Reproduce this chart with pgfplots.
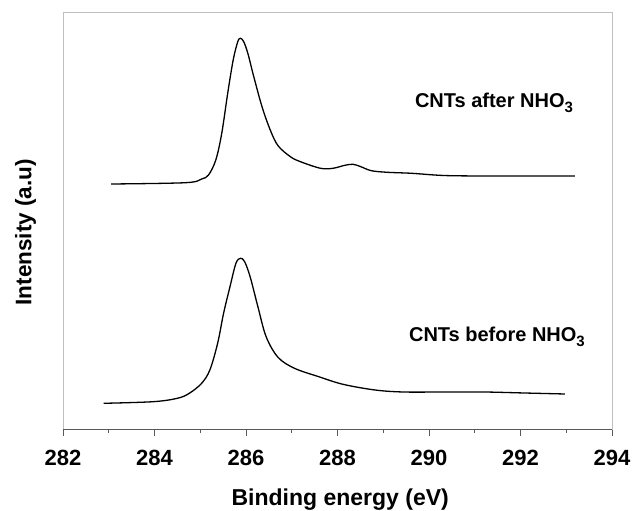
\documentclass[border=0pt]{standalone}
\usepackage{pgfplots}
\pgfplotsset{compat=1.18}
\usepackage{fontspec}
\setmainfont{Liberation Sans}
\begin{document}
\begin{tikzpicture}
\begin{axis}[
  scale only axis,
  width=549pt, height=417pt,
  xmin=282, xmax=294, ymin=0, ymax=417,
  xtick={282,284,...,294},
  minor x tick num=1,
  ytick=\empty,
  xtick pos=bottom,
  tick align=outside,
  major tick length=7pt,
  minor tick length=4pt,
  every tick/.style={black!65, line width=0.8pt},
  axis line style={draw=black!25, line width=0.8pt},
  /pgf/number format/assume math mode=true,
  /pgf/number format/1000 sep={},
  xticklabel style={font=\fontsize{22}{26}\selectfont\bfseries, anchor=base, yshift=-30pt},
  xlabel={Binding energy (eV)},
  ylabel={Intensity (a.u)},
  xlabel style={font=\fontsize{23}{27}\selectfont\bfseries, at={(axis description cs:0.505,-0.184)}, anchor=base},
  ylabel style={font=\fontsize{22.5}{27}\selectfont\bfseries, at={(axis description cs:-0.0574,0.472)}, anchor=base},
  clip=false,
]
\draw[black!65, line width=0.9pt] (rel axis cs:0,0) -- (rel axis cs:1,0);
% CNTs after NHO3
\addplot[black, line width=1.3pt, smooth, tension=0.55] coordinates {
(283.05,245) (284.68,246.3) (285.03,250) (285.18,254) (285.34,269) (285.47,295.7)
(285.60,335.7) (285.72,369) (285.82,387.3) (285.88,390.7) (285.95,387.3) (286.04,375.7)
(286.17,352.3) (286.35,322.3) (286.53,299) (286.70,283.3) (286.97,272.3) (287.19,267.3)
(287.63,260.7) (287.90,260.7) (288.16,263.7) (288.34,264.7) (288.51,262.3) (288.74,258.3)
(289.09,256.7) (289.62,255.7) (290.32,253.5) (291.21,253) (292.09,253) (293.19,253)
};
% CNTs before NHO3
\addplot[black, line width=1.3pt, smooth, tension=0.55] coordinates {
(282.89,25.7) (283.97,27.3) (284.50,30.7) (284.76,35.7) (285.03,45.7) (285.21,59)
(285.38,85.7) (285.51,115.7) (285.65,142.3) (285.78,165.7) (285.88,170.7) (285.97,167.3)
(286.09,152.3) (286.26,122.3) (286.44,92.3) (286.70,71.7) (287.06,60.7) (287.59,52.3)
(288.12,44.7) (288.82,39) (289.44,37) (290.32,37) (291.21,37) (292.09,36) (292.97,35)
};
\node[anchor=base west, font=\fontsize{20}{24}\selectfont\bfseries, inner sep=0pt] at (axis cs:289.69,321) {CNTs after NHO\raisebox{-5pt}{\fontsize{15}{15}\selectfont 3}};
\node[anchor=base west, font=\fontsize{20}{24}\selectfont\bfseries, inner sep=0pt] at (axis cs:289.56,87) {CNTs before NHO\raisebox{-5pt}{\fontsize{15}{15}\selectfont 3}};
\end{axis}
\pgfresetboundingbox
\path (-63pt,-82pt) rectangle (569pt,429pt);
\end{tikzpicture}
\end{document}
